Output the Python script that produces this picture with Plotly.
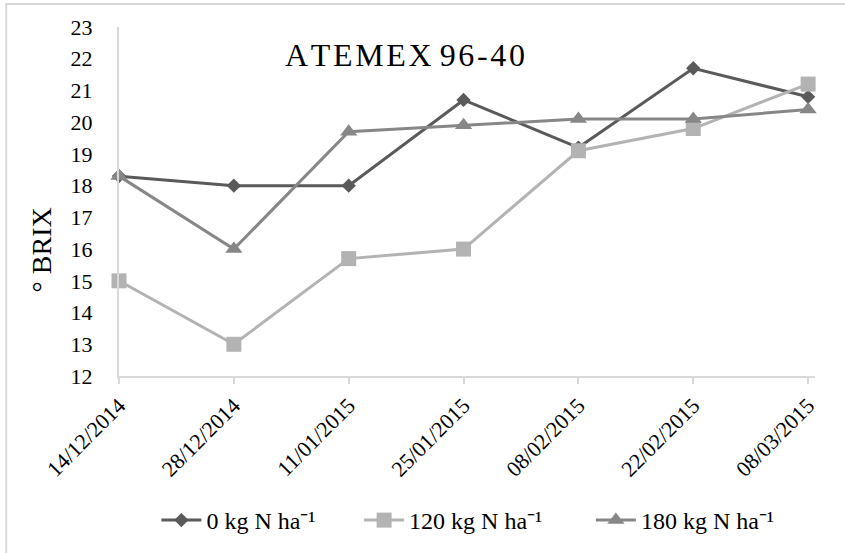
import plotly.graph_objects as go

# Sampling dates and °Brix readings per nitrogen dose
dates = ["14/12/2014", "28/12/2014", "11/01/2015", "25/01/2015",
         "08/02/2015", "22/02/2015", "08/03/2015"]
brix_0n = [18.3, 18.0, 18.0, 20.7, 19.2, 21.7, 20.8]
brix_120n = [15.0, 13.0, 15.7, 16.0, 19.1, 19.8, 21.2]
brix_180n = [18.3, 16.0, 19.7, 19.9, 20.1, 20.1, 20.4]
series_names = ["0 kg N ha\u207b\u00b9", "120 kg N ha\u207b\u00b9", "180 kg N ha\u207b\u00b9"]
y_ticks = list(range(12, 24))

FONT = "Liberation Serif, Times New Roman, serif"
xpos = list(range(len(dates)))

fig = go.Figure()
styles = [
    (brix_0n, "#5a5a5a", "diamond", 11, "legend"),
    (brix_120n, "#b3b3b3", "square", 15, "legend2"),
    (brix_180n, "#878787", "triangle-up", 15, "legend3"),
]
for (vals, col, sym, sz, lg), name in zip(styles, series_names):
    fig.add_trace(go.Scatter(
        x=xpos, y=vals, name=name, mode="lines+markers",
        line=dict(color=col, width=3),
        marker=dict(symbol=sym, size=sz, color=col),
        cliponaxis=False, legend=lg,
    ))

# slightly letter-spaced title
title_text = "\u200a".join("ATEMEX") + " " + "\u200a".join("96-40")


def legend_box(x):
    return dict(orientation="h", x=x, xanchor="left", y=-0.41, yanchor="middle",
                font=dict(size=24, family=FONT), itemwidth=40,
                bgcolor="rgba(0,0,0,0)")


fig.update_layout(
    width=845, height=553,
    paper_bgcolor="white", plot_bgcolor="white",
    margin=dict(l=119, r=30, t=27, b=176),
    font=dict(family=FONT, color="#000000", size=22),
    showlegend=True,
    legend=legend_box(0.0537),
    legend2=legend_box(0.345),
    legend3=legend_box(0.678),
    shapes=[dict(type="rect", xref="paper", yref="paper",
                 x0=-0.162, x1=1.2, y0=-0.8, y1=1.066,
                 line=dict(color="#d9d9d9", width=2), layer="below")],
    annotations=[
        dict(text=title_text, x=0.411, y=0.92, xref="paper", yref="paper",
             showarrow=False, font=dict(size=32, family=FONT), xanchor="center", yanchor="middle"),
        dict(text="° BRIX", x=-0.112, y=0.36, xref="paper", yref="paper", textangle=-90,
             showarrow=False, font=dict(size=28, family=FONT), xanchor="center", yanchor="middle"),
    ],
)
fig.update_xaxes(
    range=[0, 6.06], tickvals=xpos, ticktext=dates, tickangle=-45,
    showgrid=False, zeroline=False, showline=True, linecolor="#d9d9d9", linewidth=2,
    ticks="outside", ticklen=6, tickcolor="#d9d9d9", tickwidth=1.5,
    tickfont=dict(size=22, family=FONT),
)
fig.update_yaxes(
    range=[12, 23], tickvals=y_ticks, showgrid=False, zeroline=False,
    showline=True, linecolor="#d9d9d9", linewidth=2, ticks="",
    ticklabelstandoff=20, tickfont=dict(size=22, family=FONT),
)

fig.write_html("out.html")
